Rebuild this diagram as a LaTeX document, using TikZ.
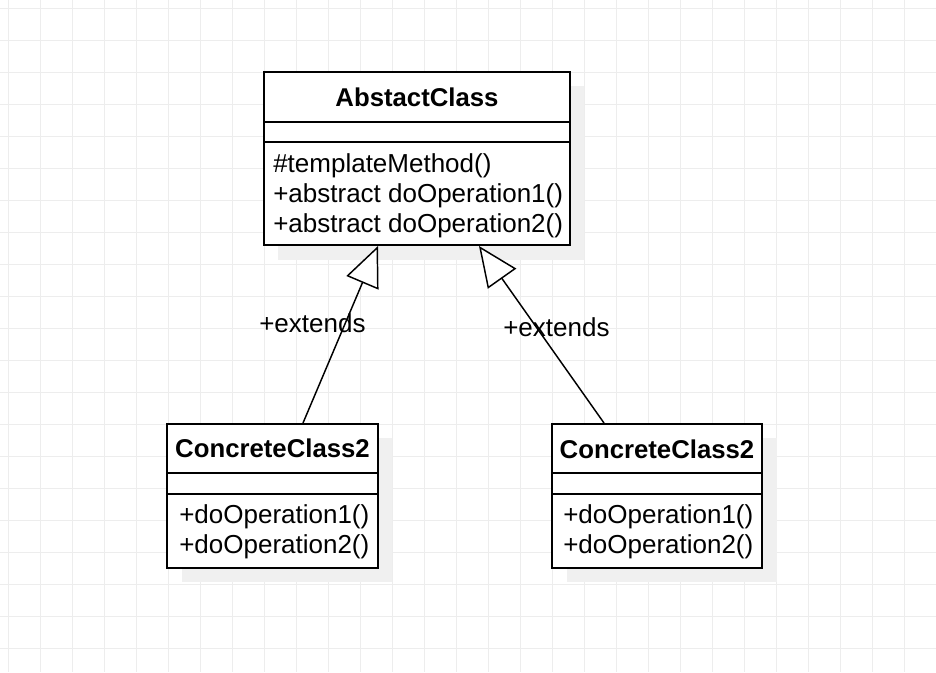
\documentclass[tikz,border=0pt]{standalone}
\usepackage{fontspec}
\setmainfont{Liberation Sans}
\usetikzlibrary{arrows.meta}
\definecolor{gridc}{HTML}{EDEDED}
\definecolor{shadowc}{HTML}{F0F0F0}
\tikzset{
  classbox/.style={draw=black, line width=1.5pt, fill=white, inner sep=0pt, rectangle},
  divider/.style={draw=black, line width=1.5pt},
  txt/.style={inner sep=0pt, anchor=base west, font=\fontsize{19.5}{22}\selectfont},
  ttl/.style={inner sep=0pt, anchor=base, font=\fontsize{19.3}{22}\selectfont\bfseries},
  inh/.style={draw=black, line width=1.1pt, -{Triangle[length=30pt, width=26pt, fill=white, line width=1.1pt]}},
}
\begin{document}
\begin{tikzpicture}[x=0.75pt, y=-0.75pt]
\useasboundingbox (0,0) rectangle (936,672);
\fill[white] (0,0) rectangle (936,672);
% grid
\foreach \gx in {8,40,...,936} { \draw[gridc, line width=0.75pt] (\gx,0) -- (\gx,672); }
\foreach \gy in {8,40,...,672} { \draw[gridc, line width=0.75pt] (0,\gy) -- (936,\gy); }
% shadows
\fill[shadowc] (278,86) rectangle (584,260);
\fill[shadowc] (182,438) rectangle (392,582);
\fill[shadowc] (567,438) rectangle (777,582);
% abstract class
\node[classbox, minimum width=229.5pt, minimum height=129.75pt] (abs) at (417,158.5) {};
\draw[divider] (264,122) -- (570,122);
\draw[divider] (264,142) -- (570,142);
\node[ttl] (absT) at (417,106) {AbstactClass};
\node[txt] (absM1) at (273,172) {\#templateMethod()};
\node[txt] (absM2) at (273,202) {+abstract doOperation1()};
\node[txt] (absM3) at (273,232) {+abstract doOperation2()};
% concrete left
\node[classbox, minimum width=158.25pt, minimum height=108pt] (cl) at (272.5,496) {};
\draw[divider] (167,473) -- (378,473);
\draw[divider] (167,494) -- (378,494);
\node[ttl] (clT) at (272.5,457) {ConcreteClass2};
\node[txt] (clM1) at (179,523) {+doOperation1()};
\node[txt] (clM2) at (179,553) {+doOperation2()};
% concrete right
\node[classbox, minimum width=157.5pt, minimum height=108pt] (cr) at (657,496) {};
\draw[divider] (552,473) -- (762,473);
\draw[divider] (552,494) -- (762,494);
\node[ttl] (crT) at (657,458) {ConcreteClass2};
\node[txt] (crM1) at (563,523) {+doOperation1()};
\node[txt] (crM2) at (563,553) {+doOperation2()};
% connectors
\coordinate (s1) at (303,423);
\coordinate (t1) at (378,246);
\coordinate (s2) at (604,423);
\coordinate (t2) at (479,246);
\draw[inh] (s1) -- (t1);
\draw[inh] (s2) -- (t2);
\node[txt] (e1) at (259,332) {+extends};
\node[txt] (e2) at (503,336) {+extends};
\end{tikzpicture}
\end{document}
